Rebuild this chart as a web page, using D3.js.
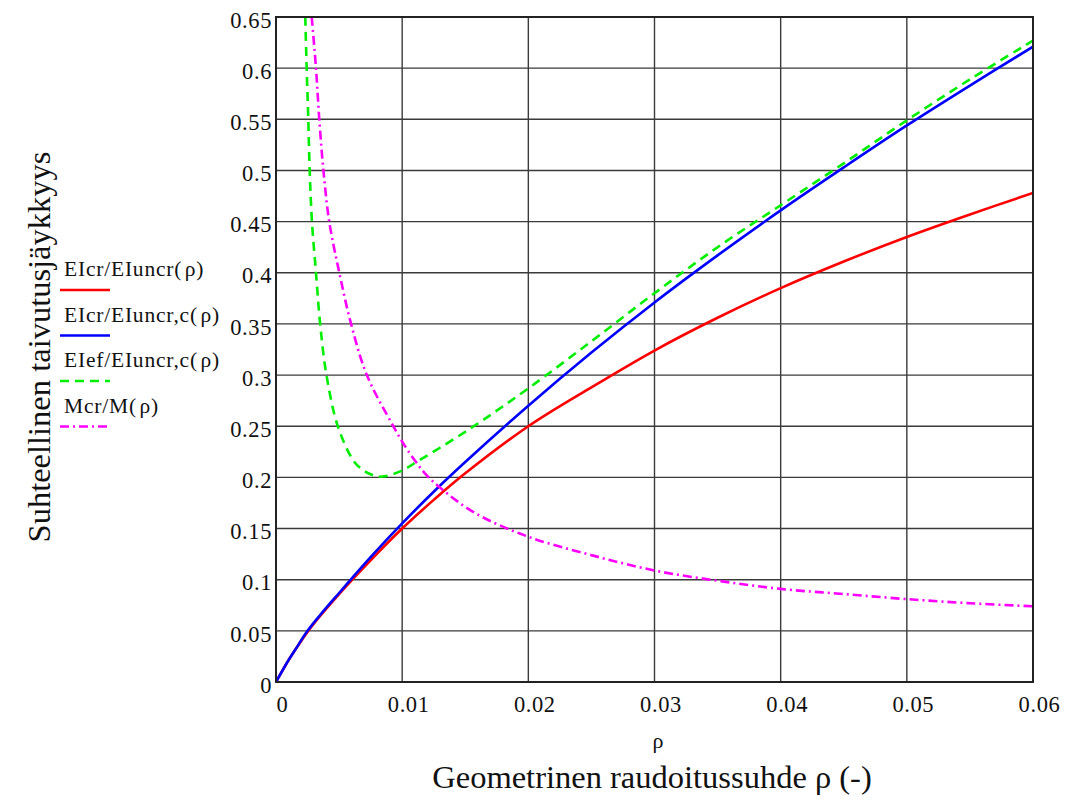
<!DOCTYPE html>
<html>
<head>
<meta charset="utf-8">
<script src="https://cdn.jsdelivr.net/npm/d3@7"></script>
<style>
  html, body { margin: 0; padding: 0; background: #fff; }
  svg { display: block; }
  svg text { font-family: "Liberation Serif", "DejaVu Serif", serif; }
</style>
</head>
<body>
<svg id="chart" width="1068" height="810"></svg>
<script>
// Reinforcement ratio grid for the two stiffness curves
const rhoGrid    = [0, 0.001, 0.0015, 0.0025, 0.0035, 0.005, 0.0075, 0.01, 0.0125, 0.015, 0.02, 0.025, 0.03, 0.035, 0.04, 0.045, 0.05, 0.055, 0.06];
const eiCrRatio  = [0, 0.0215, 0.031, 0.049, 0.0645, 0.086, 0.119, 0.150, 0.178, 0.204, 0.250, 0.288, 0.324, 0.356, 0.385, 0.411, 0.435, 0.457, 0.478];
const eiCrRatioC = [0, 0.0215, 0.031, 0.050, 0.0655, 0.087, 0.122, 0.155, 0.186, 0.215, 0.270, 0.322, 0.371, 0.417, 0.461, 0.503, 0.544, 0.583, 0.621];

// Effective stiffness ratio
const rhoEf     = [0.00232, 0.00243, 0.00256, 0.00267, 0.00285, 0.00317, 0.0035, 0.0040, 0.0049, 0.0061, 0.0067, 0.0075, 0.0084, 0.0098, 0.0114, 0.0143, 0.0164, 0.020, 0.025, 0.030, 0.035, 0.040, 0.045, 0.050, 0.055, 0.060];
const eiEfRatio = [0.65, 0.60, 0.55, 0.50, 0.45, 0.40, 0.35, 0.30, 0.25, 0.217, 0.209, 0.203, 0.2007, 0.2056, 0.217, 0.239, 0.256, 0.287, 0.333, 0.380, 0.425, 0.466, 0.507, 0.549, 0.589, 0.627];

// Cracking moment ratio
const rhoM      = [0.00283, 0.00317, 0.00343, 0.00376, 0.00422, 0.00502, 0.00595, 0.0072, 0.0093, 0.0102, 0.0111, 0.0118, 0.0130, 0.0158, 0.020, 0.025, 0.030, 0.035, 0.040, 0.045, 0.050, 0.055, 0.060];
const mCrRatio  = [0.65, 0.60, 0.55, 0.50, 0.45, 0.40, 0.35, 0.30, 0.25, 0.231, 0.215, 0.204, 0.190, 0.165, 0.142, 0.124, 0.109, 0.099, 0.091, 0.086, 0.081, 0.077, 0.074];

const xTicks = [0, 0.01, 0.02, 0.03, 0.04, 0.05, 0.06];
const yTicks = [0, 0.05, 0.1, 0.15, 0.2, 0.25, 0.3, 0.35, 0.4, 0.45, 0.5, 0.55, 0.6, 0.65];

const legendLabels = ["EIcr/EIuncr(\u200Aρ)", "EIcr/EIuncr,c(\u200Aρ)", "EIef/EIuncr,c(\u200Aρ)", "Mcr/M(\u200Aρ)"];

const svg = d3.select("#chart");
const plot = { left: 276, top: 17, width: 757, height: 665 };

const x = d3.scaleLinear().domain([0, 0.06]).range([plot.left, plot.left + plot.width]);
const y = d3.scaleLinear().domain([0, 0.65]).range([plot.top + plot.height, plot.top]);

// Grid
const grid = svg.append("g");
grid.selectAll("line.v").data(xTicks).join("line")
  .attr("x1", d => x(d)).attr("x2", d => x(d))
  .attr("y1", plot.top).attr("y2", plot.top + plot.height)
  .attr("stroke", "#3a3a3a").attr("stroke-width", 1.4);
grid.selectAll("line.h").data(yTicks).join("line")
  .attr("x1", plot.left).attr("x2", plot.left + plot.width)
  .attr("y1", d => y(d)).attr("y2", d => y(d))
  .attr("stroke", "#3a3a3a").attr("stroke-width", 1.4);

// Tick labels via axes
const fmt = d => String(+d.toFixed(2));
const xAxis = svg.append("g")
  .attr("transform", `translate(6,${plot.top + plot.height})`)
  .call(d3.axisBottom(x).tickValues(xTicks).tickFormat(fmt).tickSize(0).tickPadding(30));
const yAxis = svg.append("g")
  .attr("transform", `translate(${plot.left - 4},3)`)
  .call(d3.axisLeft(y).tickValues(yTicks).tickFormat(fmt).tickSize(0).tickPadding(0));
[xAxis, yAxis].forEach(g => {
  g.attr("font-family", null);
  g.select(".domain").remove();
  g.selectAll("text").attr("font-size", 22.5).attr("fill", "#111")
    .attr("letter-spacing", 0.6)
    .style("font-family", '"Liberation Serif", serif');
});
xAxis.selectAll("text").attr("dy", "0");

// Clip for curves
svg.append("defs").append("clipPath").attr("id", "plotClip")
  .append("rect").attr("x", plot.left).attr("y", plot.top)
  .attr("width", plot.width).attr("height", plot.height);

const line = d3.line().x(d => x(d[0])).y(d => y(d[1])).curve(d3.curveCatmullRom.alpha(0.5));
const curves = svg.append("g").attr("clip-path", "url(#plotClip)");

const series = [
  { xs: rhoGrid, ys: eiCrRatio,  color: "#ff0000", dash: null },
  { xs: rhoGrid, ys: eiCrRatioC, color: "#0000ff", dash: null },
  { xs: rhoEf,   ys: eiEfRatio,  color: "#00ee00", dash: "9,6" },
  { xs: rhoM,    ys: mCrRatio,   color: "#ff00ff", dash: "9,4,2,4" }
];
series.forEach(s => {
  curves.append("path")
    .datum(d3.zip(s.xs, s.ys))
    .attr("d", line)
    .attr("fill", "none")
    .attr("stroke", s.color)
    .attr("stroke-width", 2.6)
    .attr("stroke-dasharray", s.dash);
});

// Plot frame
svg.append("rect")
  .attr("x", plot.left).attr("y", plot.top)
  .attr("width", plot.width).attr("height", plot.height)
  .attr("fill", "none").attr("stroke", "#222").attr("stroke-width", 2);

// Legend
const legend = svg.append("g");
series.forEach((s, i) => {
  const ty = 276 + i * 45.5;
  legend.append("text").attr("x", 64).attr("y", ty)
    .attr("font-size", 21.5).attr("letter-spacing", 0.8)
    .attr("fill", "#111").text(legendLabels[i]);
  legend.append("line")
    .attr("x1", 60).attr("x2", 110).attr("y1", ty + 14).attr("y2", ty + 14)
    .attr("stroke", s.color).attr("stroke-width", 2.6)
    .attr("stroke-dasharray", s.dash);
});

// Axis titles
svg.append("text").attr("x", 658).attr("y", 748).attr("text-anchor", "middle")
  .attr("font-size", 22).attr("fill", "#111").text("ρ");
svg.append("text").attr("x", 652).attr("y", 788).attr("text-anchor", "middle")
  .attr("font-size", 32.5).attr("fill", "#111").text("Geometrinen raudoitussuhde ρ (-)");
svg.append("text")
  .attr("transform", "translate(50,347) rotate(-90)")
  .attr("text-anchor", "middle")
  .attr("font-size", 32.5).attr("fill", "#111").text("Suhteellinen taivutusjäykkyys");
</script>
</body>
</html>
